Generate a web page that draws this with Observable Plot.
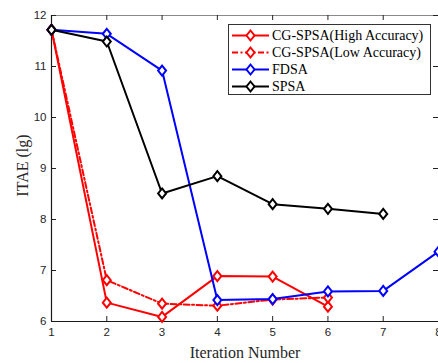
<!DOCTYPE html>
<html>
<head>
<meta charset="utf-8">
<script src="https://cdn.jsdelivr.net/npm/d3@7"></script>
<script src="https://cdn.jsdelivr.net/npm/@observablehq/plot@0.6"></script>
<style>
  html, body { margin: 0; padding: 0; background: #fff; overflow: hidden; }
  #wrap { position: relative; width: 438px; height: 363px; overflow: hidden; }
  #legend { position: absolute; left: 228px; top: 24px; width: 201px; height: 69px;
            border: 1px solid #333; background: #fff; font-family: "Liberation Serif", "Times New Roman", serif; font-size: 14px; }
  .row { position: absolute; left: 0; height: 17px; display: flex; align-items: center; white-space: nowrap; }
  .row svg { display: block; margin-left: 3px; }
  .row span { margin-left: 3px; color: #000; }
  .serif-title, .serif-title text { font-family: "Liberation Serif", "Times New Roman", serif !important; }
</style>
</head>
<body>
<div id="wrap"></div>
<script>
// ---- data ----
const iterations = [1, 2, 3, 4, 5, 6, 7, 8];
const highAcc = [11.72, 6.37, 6.09, 6.89, 6.88, 6.29];
const lowAcc  = [11.72, 6.81, 6.35, 6.31, 6.43, 6.47];
const fdsa    = [11.72, 11.64, 10.92, 6.42, 6.44, 6.59, 6.60, 7.37];
const spsa    = [11.72, 11.49, 8.51, 8.85, 8.30, 8.21, 8.11];
const seriesNames = ["CG-SPSA(High Accuracy)", "CG-SPSA(Low Accuracy)", "FDSA", "SPSA"];
const seriesColors = ["#ff0000", "#ff0000", "#0000ff", "#000000"];
const seriesDash = [null, "6,2.5,2,2.5", null, null];
const xTicks = [1, 2, 3, 4, 5, 6, 7, 8];
const yTicks = [6, 7, 8, 9, 10, 11, 12];
const xTitle = "Iteration Number";
const yTitle = "ITAE (lg)";

const allSeries = [highAcc, lowAcc, fdsa, spsa];
const rows = [];
allSeries.forEach((vals, s) => vals.forEach((v, i) => rows.push({series: seriesNames[s], s, x: iterations[i], y: v})));

const diamond = {
  draw(ctx) {
    const w = 4, h = 5;
    ctx.moveTo(0, -h); ctx.lineTo(w, 0); ctx.lineTo(0, h); ctx.lineTo(-w, 0); ctx.closePath();
  }
};

const W = 438, H = 363, mL = 51, mR = 0, mT = 15, mB = 42;
const fw = W - mL - mR, fh = H - mT - mB;
const SANS = '"Liberation Sans", Arial, sans-serif';
const SERIF = '"Liberation Serif", "Times New Roman", serif';

const marks = [];
marks.push(Plot.frame({stroke: "#8a8a8a", strokeWidth: 1}));
marks.push(Plot.tickX(xTicks, {x: d => d, stroke: "#222", insetTop: fh - 5}));
marks.push(Plot.tickX(xTicks, {x: d => d, stroke: "#222", insetBottom: fh - 5}));
marks.push(Plot.tickY(yTicks, {y: d => d, stroke: "#222", insetRight: fw - 5}));
marks.push(Plot.tickY(yTicks, {y: d => d, stroke: "#222", insetLeft: fw - 5}));
marks.push(Plot.axisX(xTicks, {tickSize: 0, tickPadding: 6, fontSize: 11.5, tickFormat: d3.format("d"), fill: "#262626", label: null}));
marks.push(Plot.axisY(yTicks, {tickSize: 0, tickPadding: 5, fontSize: 11.5, tickFormat: d3.format("d"), fill: "#262626", label: null}));
marks.push(Plot.ruleX([1], {stroke: "#1a1a1a", strokeWidth: 1.2}));
marks.push(Plot.ruleY([6], {stroke: "#1a1a1a", strokeWidth: 1.2}));
allSeries.forEach((vals, s) => {
  const data = rows.filter(r => r.s === s);
  marks.push(Plot.line(data, {x: "x", y: "y", stroke: seriesColors[s], strokeWidth: 2, strokeDasharray: seriesDash[s] || undefined}));
  marks.push(Plot.dot(data, {x: "x", y: "y", symbol: diamond, stroke: seriesColors[s], fill: "#fff", strokeWidth: 2}));
});
marks.push(Plot.text([xTitle], {frameAnchor: "bottom", text: d => d, textAnchor: "middle", lineAnchor: "middle", dy: 31, fontSize: 16, fill: "#262626", className: "serif-title"}));
marks.push(Plot.text([yTitle], {frameAnchor: "left", text: d => d, rotate: -90, textAnchor: "middle", lineAnchor: "middle", dx: -29, dy: -3, fontSize: 16, fill: "#262626", className: "serif-title"}));

const chart = Plot.plot({
  width: W, height: H,
  marginLeft: mL, marginRight: mR, marginTop: mT, marginBottom: mB,
  x: {domain: [1, 8], axis: null},
  y: {domain: [6, 12], axis: null},
  style: {background: "#fff", overflow: "visible", fontFamily: SANS},
  marks
});
chart.querySelectorAll("text").forEach(t => {
  const c = t.textContent;
  if (c.includes("Iteration") || c.includes("ITAE")) {
    t.setAttribute("font-family", SERIF);
    t.style.fontFamily = SERIF;
    if (t.parentNode) t.parentNode.style.fontFamily = SERIF;
  }
});
const wrap = document.getElementById("wrap");
wrap.appendChild(chart);

// legend
const legend = document.createElement("div");
legend.id = "legend";
seriesNames.forEach((name, s) => {
  const row = document.createElement("div");
  row.className = "row";
  row.style.top = (2 + s * 17) + "px";
  const dash = seriesDash[s] ? `stroke-dasharray="${seriesDash[s]}"` : "";
  row.innerHTML = `<svg width="37" height="17"><line x1="0" y1="8.5" x2="37" y2="8.5" stroke="${seriesColors[s]}" stroke-width="2" ${dash}/><path d="M18.5,3.5L22.5,8.5L18.5,13.5L14.5,8.5Z" fill="#fff" stroke="${seriesColors[s]}" stroke-width="2"/></svg><span>${name}</span>`;
  legend.appendChild(row);
});
wrap.appendChild(legend);
</script>
</body>
</html>
